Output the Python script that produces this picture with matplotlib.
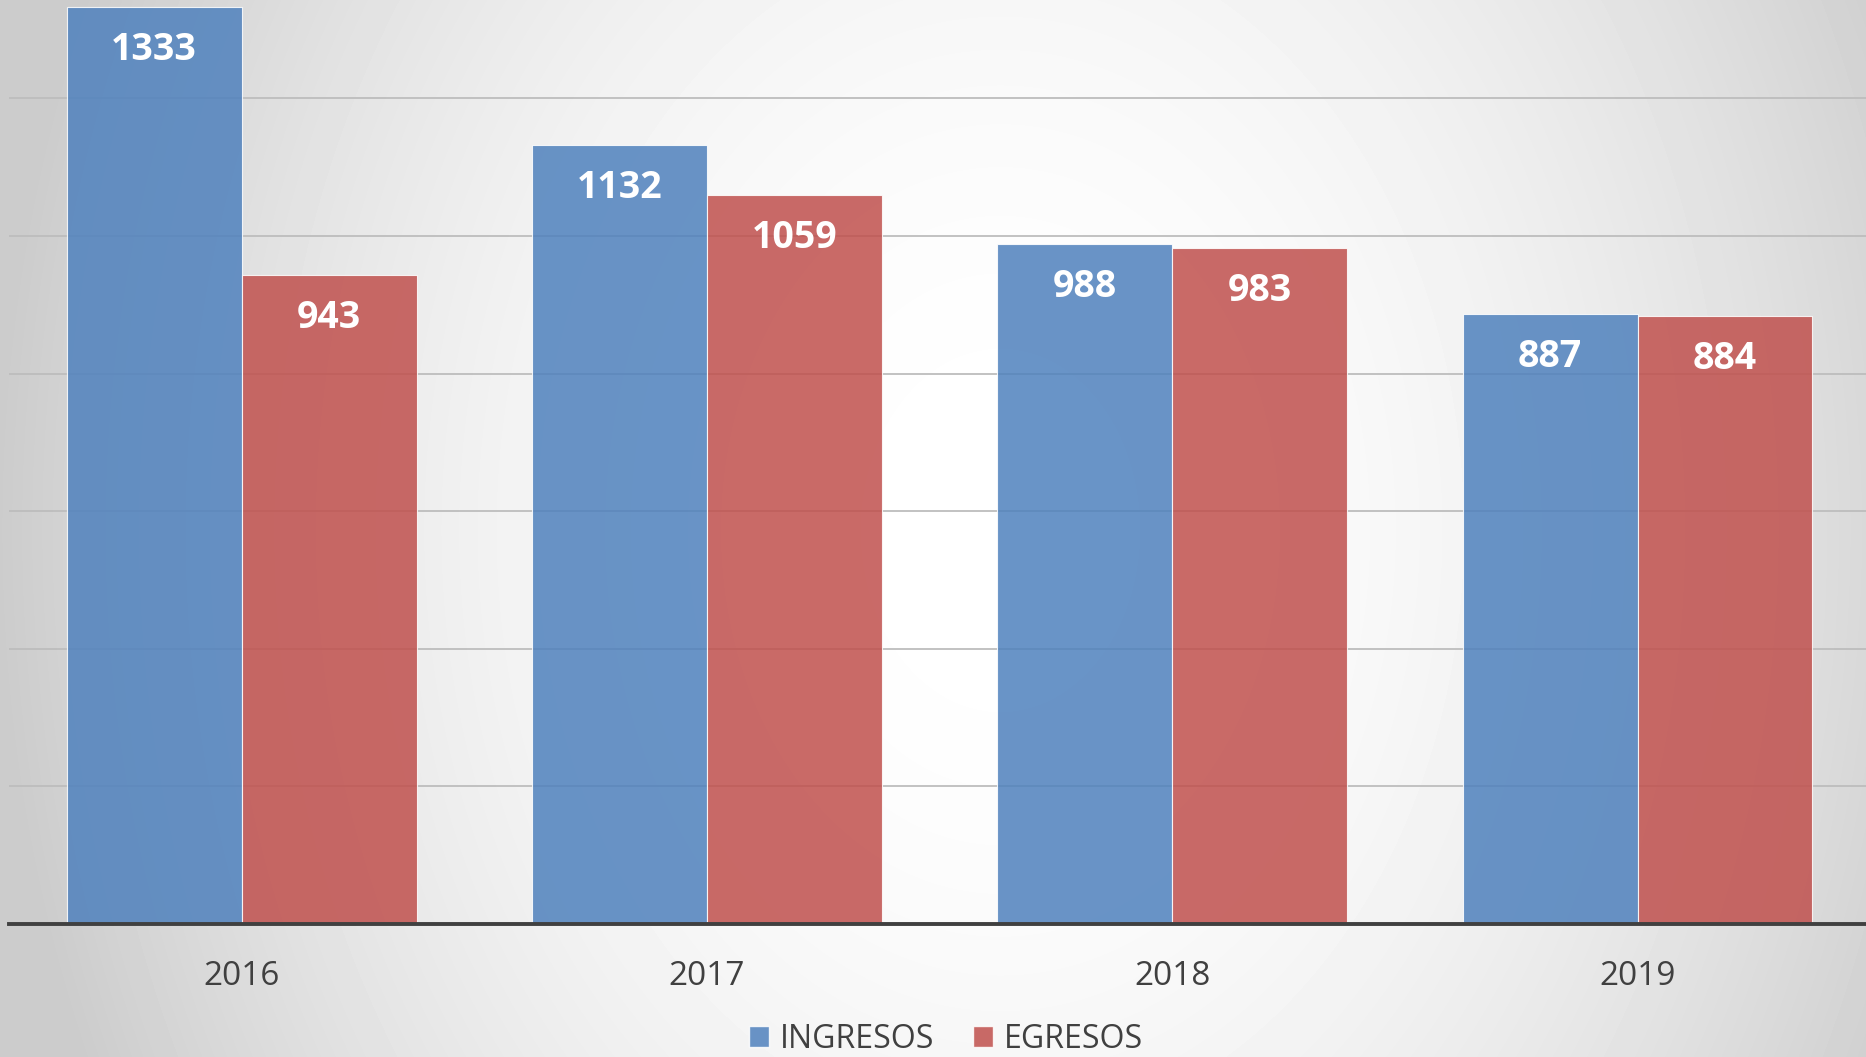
import numpy as np
import matplotlib.pyplot as plt
from matplotlib.patches import Patch

plt.rcParams['font.family'] = ['Open Sans', 'DejaVu Sans']

years = ['2016', '2017', '2018', '2019']
ingresos = [1333, 1132, 988, 887]
egresos = [943, 1059, 983, 884]
series_names = ['INGRESOS', 'EGRESOS']

blue = '#4F81BD'
red = '#C0504D'

W, H = 1866, 1057
fig = plt.figure(figsize=(W / 100, H / 100), dpi=100)

# radial grey background, bright in the middle
bg = fig.add_axes([0, 0, 1, 1], zorder=0)
xx, yy = np.meshgrid(np.arange(W), np.arange(H))
r = np.sqrt(((xx - 1000) / 1000.0) ** 2 + ((yy - 530) / 1300.0) ** 2)
shade = 1 - 0.2 * np.clip(r, 0, 1) ** 2
bg.imshow(shade, cmap='gray', vmin=0, vmax=1, aspect='auto', interpolation='bilinear')
bg.axis('off')

ax = fig.add_axes([9 / W, (H - 924) / H, 1 - 9 / W, 924 / H], zorder=1)
ax.set_facecolor('none')

x = np.arange(len(years))
w = 0.376
b1 = ax.bar(x - w / 2, ingresos, w, color=blue, alpha=0.85, edgecolor='white', linewidth=0.8, zorder=3)
b2 = ax.bar(x + w / 2, egresos, w, color=red, alpha=0.85, edgecolor='white', linewidth=0.8, zorder=3)

for bars in (b1, b2):
    for b in bars:
        ax.annotate(str(int(b.get_height())), (b.get_x() + b.get_width() / 2, b.get_height()),
                    xytext=(0, -31), textcoords='offset points', ha='center', va='center',
                    color='white', fontsize=27, fontweight='bold', zorder=4)

ax.set_xlim(-0.5, 3.491)
ax.set_ylim(0, 1343)
ax.set_yticks(np.arange(200, 1400, 200))
ax.yaxis.grid(True, color='#bdbdbd', linewidth=1.3, zorder=1)
ax.tick_params(axis='y', left=False, labelleft=False)
ax.set_xticks(x)
ax.set_xticklabels(years, fontsize=24, color='#404040')
ax.tick_params(axis='x', length=0, pad=26)
for s in ['top', 'right', 'left']:
    ax.spines[s].set_visible(False)
ax.spines['bottom'].set_color('#404040')
ax.spines['bottom'].set_linewidth(2.8)
ax.spines['bottom'].set_zorder(5)

handles = [Patch(facecolor=blue, alpha=0.85, edgecolor='white', label=series_names[0]),
           Patch(facecolor=red, alpha=0.85, edgecolor='white', label=series_names[1])]
fig.legend(handles=handles, loc='center', bbox_to_anchor=(0.507, 0.017), ncol=2, frameon=False,
           fontsize=23, labelcolor='#404040', handlelength=0.62, handleheight=0.62,
           handletextpad=0.35, columnspacing=1.2, borderpad=0.1)

fig.savefig('out.png', dpi=100)
